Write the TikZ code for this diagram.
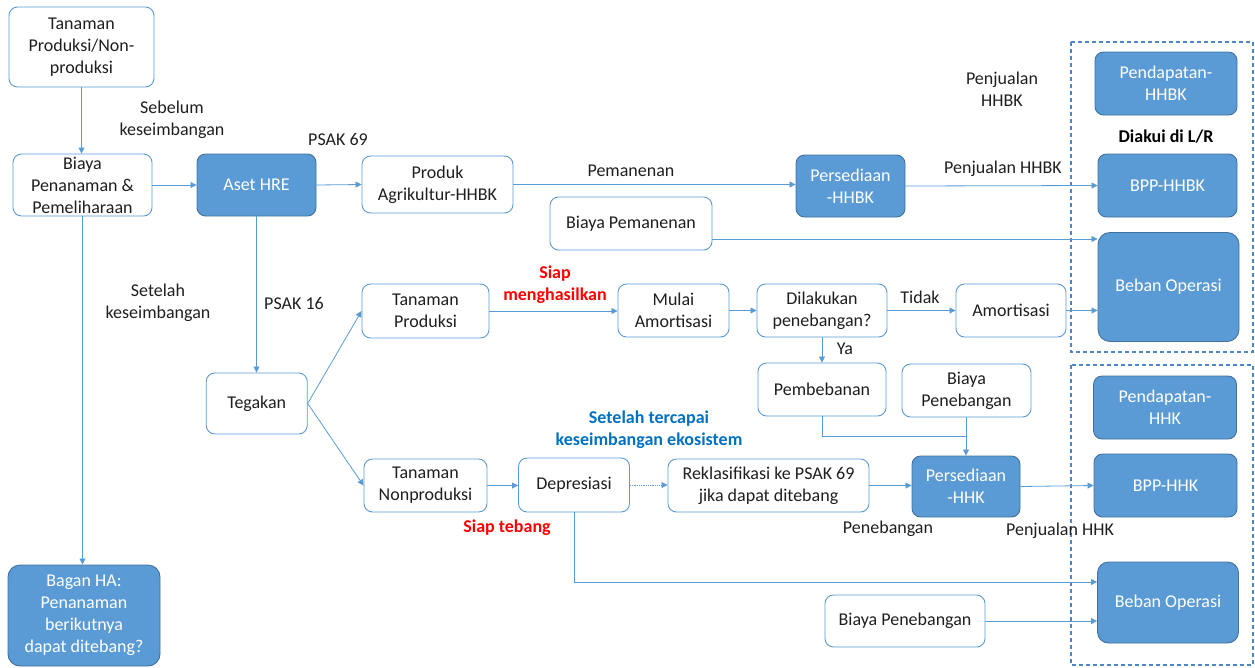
\documentclass[tikz,border=0pt]{standalone}
\usepackage{fontspec}
\setmainfont{Carlito}
\usetikzlibrary{arrows.meta}
\definecolor{lb}{HTML}{5B9BD5}
\definecolor{db}{HTML}{41719C}
\definecolor{tx}{HTML}{1F1F1F}
\definecolor{bluetxt}{HTML}{0070C0}
\definecolor{redtxt}{HTML}{FF0000}
\definecolor{dashc}{HTML}{4A86C8}
\newcommand\fsz{\fontsize{18}{22}\selectfont}
\tikzset{
  base/.style={rounded corners=8.5pt, align=center, inner sep=0pt, line width=0.9pt, font=\fsz},
  wbox/.style={base, draw=lb, fill=white, text=tx},
  fbox/.style={base, draw=db, fill=lb, text=white},
  conn/.style={draw=lb, line width=0.8pt, -{Triangle[length=6pt,width=6pt]}},
  plainline/.style={draw=lb, line width=0.8pt},
  lbl/.style={text=tx, font=\fsz, align=center, inner sep=0pt},
  redlbl/.style={text=redtxt, font=\fsz\bfseries, align=center, inner sep=0pt},
  bluelbl/.style={text=bluetxt, font=\fsz\bfseries, align=center, inner sep=0pt},
  boldlbl/.style={text=black, font=\fsz\bfseries, align=center, inner sep=0pt},
  dashbox/.style={draw=dashc, line width=1.1pt, dash pattern=on 4pt off 3pt}
}
\begin{document}
\begin{tikzpicture}[x=1pt,y=-1pt]
\useasboundingbox (0,0) rectangle (1255,667);
% dashed groups
\draw[dashbox] (1071,42) rectangle (1253,352);
\draw[dashbox] (1071,365) rectangle (1253,665);
% nodes
\node[wbox, minimum width=145pt, minimum height=80pt] (tpn) at (81.5,47) {Tanaman\\Produksi/Non-\\produksi};
\node[wbox, minimum width=139pt, minimum height=62pt] (biaya) at (82.5,185) {Biaya\\Penanaman \&\\Pemeliharaan};
\node[fbox, minimum width=119pt, minimum height=62pt] (aset) at (256.5,185) {Aset HRE};
\node[wbox, minimum width=151pt, minimum height=57pt] (produk) at (437.5,184.5) {Produk\\Agrikultur-HHBK};
\node[fbox, minimum width=109pt, minimum height=62pt] (perHHBK) at (850.5,186) {Persediaan\\-HHBK};
\node[wbox, minimum width=162pt, minimum height=53pt] (bpem) at (631,223.5) {Biaya Pemanenan};
\node[fbox, minimum width=142pt, minimum height=63pt] (pendHHBK) at (1166,83.5) {Pendapatan-\\HHBK};
\node[fbox, minimum width=139pt, minimum height=63pt] (bppHHBK) at (1167.5,185.5) {BPP-HHBK};
\node[fbox, minimum width=141pt, minimum height=109pt, rounded corners=12pt] (bebanT) at (1168.5,287) {Beban Operasi};
\node[wbox, minimum width=101pt, minimum height=61pt] (tegakan) at (256.75,403.5) {Tegakan};
\node[wbox, minimum width=127pt, minimum height=54pt] (tprod) at (425.5,311) {Tanaman\\Produksi};
\node[wbox, minimum width=111pt, minimum height=53pt] (mulai) at (673.5,310.5) {Mulai\\Amortisasi};
\node[wbox, minimum width=130pt, minimum height=53pt] (dilak) at (822,310.5) {Dilakukan\\penebangan?};
\node[wbox, minimum width=110pt, minimum height=53pt] (amort) at (1011,310.5) {Amortisasi};
\node[wbox, minimum width=128pt, minimum height=53pt] (pembeb) at (822,389.5) {Pembebanan};
\node[wbox, minimum width=129pt, minimum height=53pt] (bpeneb) at (966.5,390.5) {Biaya\\Penebangan};
\node[wbox, minimum width=123pt, minimum height=53pt] (tnp) at (425.5,485.5) {Tanaman\\Nonproduksi};
\node[wbox, minimum width=111pt, minimum height=54pt] (depres) at (574,485) {Depresiasi};
\node[wbox, minimum width=201pt, minimum height=53pt] (reklas) at (768.5,485.5) {Reklasifikasi ke PSAK 69\\jika dapat ditebang};
\node[fbox, minimum width=108pt, minimum height=61pt] (perHHK) at (966,486.5) {Persediaan\\-HHK};
\node[fbox, minimum width=143pt, minimum height=63pt] (pendHHK) at (1165,407.5) {Pendapatan-\\HHK};
\node[fbox, minimum width=143pt, minimum height=63pt] (bppHHK) at (1165.5,485.5) {BPP-HHK};
\node[fbox, minimum width=141pt, minimum height=81pt, rounded corners=11pt] (bebanB) at (1168,602.5) {Beban Operasi};
\node[wbox, minimum width=160pt, minimum height=52pt] (bpeneb2) at (905,621) {Biaya Penebangan};
\node[fbox, minimum width=152pt, minimum height=101pt, rounded corners=12pt] (bagan) at (84,615.5) {Bagan HA:\\Penanaman\\berikutnya\\dapat ditebang?};
% labels
\node[lbl] (lsebelum) at (172,120) {Sebelum\\keseimbangan};
\node[lbl] (lpsak69) at (338,139) {PSAK 69};
\node[lbl] (lpemanenan) at (631,171) {Pemanenan};
\node[lbl] (lpenjual1) at (1002,89) {Penjualan\\HHBK};
\node[boldlbl] (ldiakui) at (1166,137) {Diakui di L/R};
\node[lbl] (lpenjual2) at (1003,169) {Penjualan HHBK};
\node[lbl] (lsetelah) at (158,303) {Setelah\\keseimbangan};
\node[lbl] (lpsak16) at (294,303) {PSAK 16};
\node[redlbl] (lsiap) at (555,285) {Siap\\menghasilkan};
\node[lbl] (ltidak) at (920,297) {Tidak};
\node[lbl] (lya) at (845,349) {Ya};
\node[bluelbl] (lekos) at (649,430) {Setelah tercapai\\keseimbangan ekosistem};
\node[redlbl] (ltebang) at (507,528) {Siap tebang};
\node[lbl] (lpenebangan) at (888,529) {Penebangan};
\node[lbl] (lpenjual3) at (1060,531) {Penjualan HHK};
% connectors
\draw[conn] (tpn.south) -- (tpn.south |- biaya.north);
\draw[conn] (biaya.east) -- (biaya.east -| aset.west);
\draw[conn] (aset.east) -- (produk.west);
\draw[conn] (produk.east) -- (produk.east -| perHHBK.west);
\draw[conn] (perHHBK.east) -- (bppHHBK.west);
\draw[conn] ([yshift=-15.5pt]bpem.east) -- ([yshift=-15.5pt]bpem.east -| bebanT.west);
\draw[conn] (aset.south) -- (aset.south |- tegakan.north);
\draw[conn] (biaya.south) -- (biaya.south |- bagan.north);
\draw[conn] (tegakan.east) -- (tprod.west);
\draw[conn] (tegakan.east) -- (tnp.west);
\draw[conn] (tprod.east) -- (tprod.east -| mulai.west);
\draw[conn] (mulai.east) -- (dilak.west);
\draw[conn] (dilak.east) -- (amort.west);
\draw[conn] (amort.east) -- (amort.east -| bebanT.west);
\draw[conn] (dilak.south) -- (pembeb.north);
\path (perHHK.north) ++(0,-19) coordinate (junc);
\draw[plainline] (pembeb.south) |- (junc);
\draw[conn] (perHHK.north |- bpeneb.south) -- (perHHK.north);
\draw[conn] (tnp.east) -- (tnp.east -| depres.west);
\draw[conn, densely dotted] (depres.east) -- (depres.east -| reklas.west);
\draw[conn] (reklas.east) -- (reklas.east -| perHHK.west);
\draw[conn] (perHHK.east) -- (bppHHK.west);
\draw[conn] (depres.south) |- ([yshift=20.5pt]bebanB.west);
\draw[conn] (bpeneb2.east) -- (bpeneb2.east -| bebanB.west);
\end{tikzpicture}
\end{document}
